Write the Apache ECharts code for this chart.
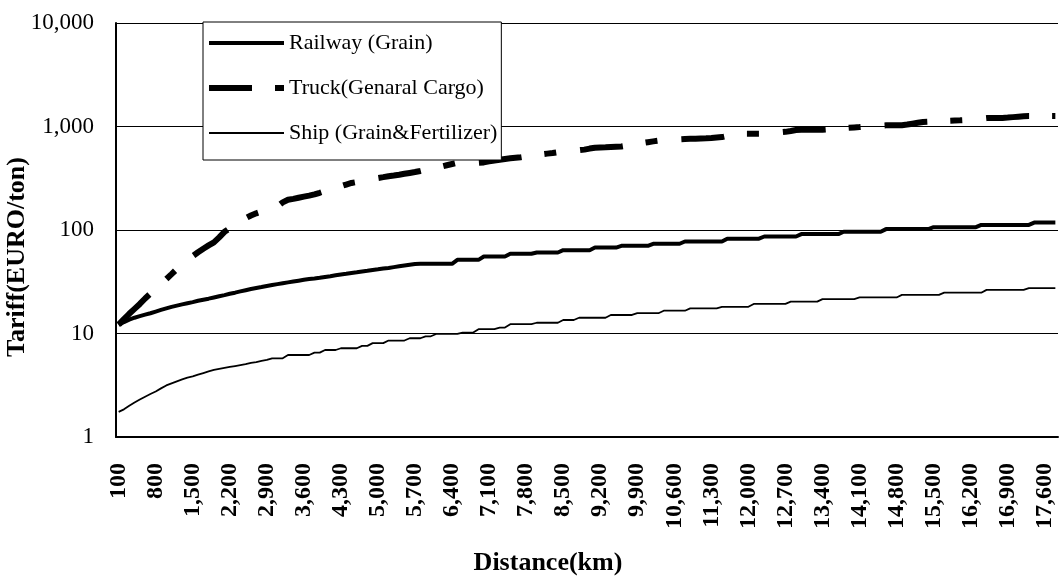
<!DOCTYPE html>
<html>
<head>
<meta charset="utf-8">
<title>Tariff vs Distance</title>
<script src="https://cdn.jsdelivr.net/npm/echarts@6/dist/echarts.min.js"></script>
<style>
  html, body { margin: 0; padding: 0; background: #fff; }
  #chart { width: 1059px; height: 576px; }
</style>
</head>
<body>
<div id="chart"></div>
<script>
// Distance categories (km), one per 100 km
const distances = [
  100,200,300,400,500,600,700,800,900,1000,
  1100,1200,1300,1400,1500,1600,1700,1800,1900,2000,
  2100,2200,2300,2400,2500,2600,2700,2800,2900,3000,
  3100,3200,3300,3400,3500,3600,3700,3800,3900,4000,
  4100,4200,4300,4400,4500,4600,4700,4800,4900,5000,
  5100,5200,5300,5400,5500,5600,5700,5800,5900,6000,
  6100,6200,6300,6400,6500,6600,6700,6800,6900,7000,
  7100,7200,7300,7400,7500,7600,7700,7800,7900,8000,
  8100,8200,8300,8400,8500,8600,8700,8800,8900,9000,
  9100,9200,9300,9400,9500,9600,9700,9800,9900,10000,
  10100,10200,10300,10400,10500,10600,10700,10800,10900,11000,
  11100,11200,11300,11400,11500,11600,11700,11800,11900,12000,
  12100,12200,12300,12400,12500,12600,12700,12800,12900,13000,
  13100,13200,13300,13400,13500,13600,13700,13800,13900,14000,
  14100,14200,14300,14400,14500,14600,14700,14800,14900,15000,
  15100,15200,15300,15400,15500,15600,15700,15800,15900,16000,
  16100,16200,16300,16400,16500,16600,16700,16800,16900,17000,
  17100,17200,17300,17400,17500,17600,17700,17800
];

// Railway tariff for grain (EURO/ton)
const railwayGrain = [
  12.1,12.9,13.6,14.2,14.7,15.2,15.7,16.3,16.9,17.5,
  18.1,18.6,19.1,19.6,20.1,20.7,21.2,21.7,22.3,22.9,
  23.5,24.2,24.8,25.5,26.2,26.9,27.5,28.1,28.8,29.4,
  30.0,30.6,31.2,31.8,32.4,33.0,33.6,34.0,34.5,35.2,
  35.8,36.5,37.2,37.8,38.5,39.1,39.8,40.4,41.1,41.7,
  42.4,43.0,43.8,44.6,45.4,46.2,47.0,47.1,47.1,47.1,
  47.1,47.1,47.1,47.1,51.5,51.5,51.5,51.5,51.5,55.4,
  55.4,55.4,55.4,55.4,58.9,58.9,58.9,58.9,58.9,60.6,
  60.6,60.6,60.6,60.6,63.8,63.8,63.8,63.8,63.8,63.8,
  67.7,67.7,67.7,67.7,67.7,70.3,70.3,70.3,70.3,70.3,
  70.3,73.6,73.6,73.6,73.6,73.6,73.6,77.4,77.4,77.4,
  77.4,77.4,77.4,77.4,77.4,82.5,82.5,82.5,82.5,82.5,
  82.5,82.5,86.5,86.5,86.5,86.5,86.5,86.5,86.5,91.3,
  91.3,91.3,91.3,91.3,91.3,91.3,91.3,96.1,96.1,96.1,
  96.1,96.1,96.1,96.1,96.1,102,102,102,102,102,
  102,102,102,102,106.6,106.6,106.6,106.6,106.6,106.6,
  106.6,106.6,106.6,112,112,112,112,112,112,112,
  112,112,112,118,118,118,118,118
];

// Truck tariff for general cargo (EURO/ton)
const truckCargo = [
  12.2,13.8,15.5,17.3,19.3,21.8,24.3,27,30,33.5,
  37.5,42,46.5,51,56,61,66,71,76,85,
  96,104,112,121,130,138,145,151,157,163,
  169,185,196,200,205,210,215,221,229,238,
  247,256,265,275,285,291,298,305,312,318,
  324,331,336,342,349,356,363,372,383,392,
  400,410,422,434,446,446,446,446,446,450,
  460,470,478,486,493,499,505,514,522,530,
  539,547,555,565,572,577,583,590,598,612,
  624,627,630,634,638,641,653,665,678,692,
  705,718,730,740,744,748,753,758,760,760,
  765,770,776,783,790,810,835,850,850,850,
  850,850,855,862,870,878,888,905,925,930,
  930,930,930,931,939,947,955,963,971,979,
  987,996,1003,1012,1020,1027,1030,1030,1030,1045,
  1065,1085,1105,1112,1118,1124,1130,1136,1142,1148,
  1155,1162,1175,1190,1205,1210,1210,1210,1220,1232,
  1244,1255,1260,1260,1260,1260,1260,1260
];

// Ship tariff for grain & fertilizer (EURO/ton)
const shipGrainFert = [
  1.75,1.85,2.0,2.15,2.3,2.45,2.6,2.75,2.95,3.15,
  3.3,3.45,3.6,3.75,3.85,4.0,4.15,4.3,4.45,4.55,
  4.65,4.75,4.85,4.95,5.05,5.2,5.3,5.45,5.55,5.76,
  5.76,5.76,6.2,6.2,6.2,6.2,6.2,6.53,6.53,6.93,
  6.93,6.93,7.2,7.2,7.2,7.2,7.6,7.6,8.07,8.07,
  8.07,8.55,8.55,8.55,8.55,9.0,9.0,9.0,9.4,9.4,
  9.9,9.9,9.9,9.9,9.9,10.2,10.2,10.2,11.0,11.0,
  11.0,11.0,11.4,11.4,12.3,12.3,12.3,12.3,12.3,12.7,
  12.7,12.7,12.7,12.7,13.5,13.5,13.5,14.2,14.2,14.2,
  14.2,14.2,14.2,15.1,15.1,15.1,15.1,15.1,15.7,15.7,
  15.7,15.7,15.7,16.6,16.6,16.6,16.6,16.6,17.5,17.5,
  17.5,17.5,17.5,17.5,18.1,18.1,18.1,18.1,18.1,18.1,
  19.3,19.3,19.3,19.3,19.3,19.3,19.3,20.3,20.3,20.3,
  20.3,20.3,20.3,21.5,21.5,21.5,21.5,21.5,21.5,21.5,
  22.3,22.3,22.3,22.3,22.3,22.3,22.3,22.3,23.6,23.6,
  23.6,23.6,23.6,23.6,23.6,23.6,24.8,24.8,24.8,24.8,
  24.8,24.8,24.8,24.8,26.4,26.4,26.4,26.4,26.4,26.4,
  26.4,26.4,27.4,27.4,27.4,27.4,27.4,27.4
];

const seriesNames = ['Railway (Grain)', 'Truck(Genaral Cargo)', 'Ship (Grain&Fertilizer)'];

const SERIF = '"Liberation Serif", "Times New Roman", serif';
const withCommas = v => String(v).replace(/\B(?=(\d{3})+(?!\d))/g, ',');

const chart = echarts.init(document.getElementById('chart'), null, { renderer: 'canvas' });

chart.setOption({
  animation: false,
  backgroundColor: '#fff',
  grid: { left: 116, right: 1, top: 23, bottom: 139, containLabel: false, outerBoundsMode: 'none' },
  legend: {
    data: seriesNames,
    orient: 'vertical',
    left: 203,
    top: 22,
    itemWidth: 75,
    itemHeight: 24,
    itemGap: 21,
    padding: [9, 4, 15, 3],
    borderColor: '#000',
    borderWidth: 1,
    backgroundColor: '#fff',
    lineStyle: { width: 'inherit', type: 'inherit' },
    itemStyle: { opacity: 0, borderWidth: 0 },
    textStyle: { fontFamily: SERIF, fontSize: 22, color: '#000', lineHeight: 24 },
    z: 10
  },
  xAxis: {
    type: 'category',
    data: distances,
    boundaryGap: true,
    name: 'Distance(km)',
    nameLocation: 'middle',
    nameGap: 113,
    nameTextStyle: {
      fontFamily: SERIF, fontSize: 26, fontWeight: 'bold', color: '#000',
      padding: [0, 78, 0, 0]
    },
    axisLine: { lineStyle: { color: '#000', width: 2 } },
    axisTick: { inside: true, length: 8, interval: 4, lineStyle: { color: '#000', width: 1.5 } },
    axisLabel: {
      interval: 6,
      rotate: 90,
      margin: 26,
      fontFamily: SERIF,
      fontSize: 24,
      fontWeight: 'bold',
      color: '#000',
      formatter: v => withCommas(v)
    },
    splitLine: { show: false }
  },
  yAxis: {
    type: 'log',
    logBase: 10,
    min: 1,
    max: 10000,
    name: 'Tariff(EURO/ton)',
    nameLocation: 'middle',
    nameGap: 86,
    nameRotate: 90,
    nameMoveOverlap: false,
    nameTextStyle: {
      fontFamily: SERIF, fontSize: 26, fontWeight: 'bold', color: '#000',
      padding: [0, 54, 0, 0]
    },
    axisLine: { show: true, lineStyle: { color: '#000', width: 2 } },
    axisTick: { show: false },
    minorTick: { show: false },
    axisLabel: {
      margin: 22,
      fontFamily: SERIF,
      fontSize: 23,
      color: '#000',
      formatter: v => withCommas(Math.round(v))
    },
    splitLine: { show: true, lineStyle: { color: '#000', width: 1 } }
  },
  series: [
    {
      name: seriesNames[0],
      type: 'line',
      data: railwayGrain,
      symbol: 'none',
      showSymbol: false,
      color: '#000',
      lineStyle: { color: '#000', width: 4 },
      z: 3
    },
    {
      name: seriesNames[1],
      type: 'line',
      data: truckCargo,
      symbol: 'none',
      showSymbol: false,
      color: '#000',
      lineStyle: { color: '#000', width: 6, type: [43, 23, 12, 24], cap: 'butt' },
      z: 4
    },
    {
      name: seriesNames[2],
      type: 'line',
      data: shipGrainFert,
      symbol: 'none',
      showSymbol: false,
      color: '#000',
      lineStyle: { color: '#000', width: 1.8 },
      z: 3
    }
  ]
});
</script>
</body>
</html>
